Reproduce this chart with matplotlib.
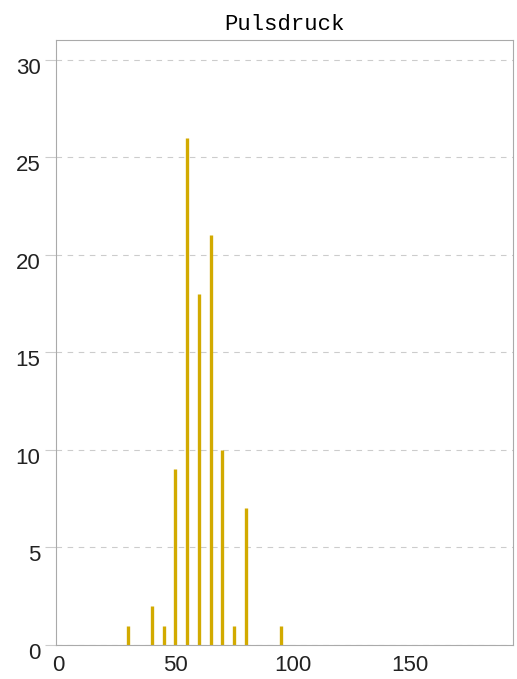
import matplotlib

matplotlib.use("Agg")
import matplotlib.pyplot as plt
import matplotlib.transforms as mtransforms

# pulse pressure values and their counts
pulse_pressure = [30, 40, 45, 50, 55, 60, 65, 70, 75, 80, 95]
counts = [1, 2, 1, 9, 26, 18, 21, 10, 1, 7, 1]
x_ticks = [0, 50, 100, 150]
y_ticks = [0, 5, 10, 15, 20, 25, 30]

fig = plt.figure(figsize=(5.17, 6.79), dpi=100)
ax = fig.add_axes([0.108, 0.050, 0.884, 0.891])

ax.vlines(pulse_pressure, 0, counts, color="#d2aa00", lw=2.4)

ax.set_xlim(-1, 194)
ax.set_ylim(0, 31)
ax.set_xticks(x_ticks)
ax.set_yticks(y_ticks)
ax.yaxis.grid(True, ls=(0, (5, 5)), color="#cccccc", lw=0.8)
ax.set_axisbelow(True)

for s in ax.spines.values():
    s.set_color("#aaaaaa")
    s.set_linewidth(0.8)

ax.tick_params(axis="y", length=8, color="#cccccc", labelsize=16,
               labelcolor="#222222", pad=3)
ax.tick_params(axis="x", length=0, labelsize=16, labelcolor="#222222", pad=7)
for lab in ax.get_xticklabels() + ax.get_yticklabels():
    lab.set_family("Liberation Sans")

# y labels sit a little below their grid lines
shift = mtransforms.ScaledTranslation(0, -6 / 100, fig.dpi_scale_trans)
for lab in ax.get_yticklabels():
    lab.set_transform(lab.get_transform() + shift)

ax.set_title("Pulsdruck", family="Liberation Mono", fontsize=16, pad=7)

fig.savefig("out.png", dpi=100)
